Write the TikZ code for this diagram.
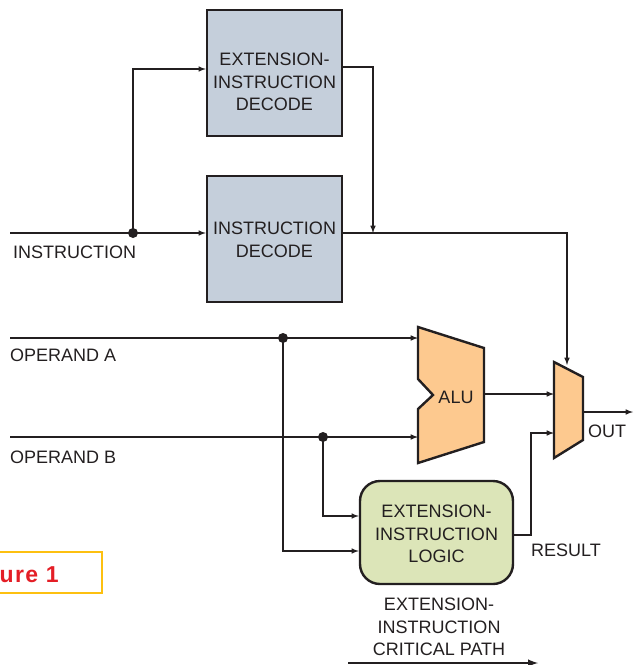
\documentclass[tikz,border=0pt]{standalone}
\usepackage{fontspec}
\setmainfont{Liberation Sans}
\usetikzlibrary{positioning}
\definecolor{decodeblue}{HTML}{C5CFDB}
\definecolor{logicgreen}{HTML}{DCE5B8}
\definecolor{aluorange}{HTML}{FDC98F}
\definecolor{ink}{HTML}{231F20}
\definecolor{figyellow}{HTML}{FDC010}
\definecolor{figred}{HTML}{E41E26}
\tikzset{
	block/.style={draw=ink, line width=2.4pt, minimum width=135pt, minimum height=126pt, inner sep=0pt},
	unit/.style={draw=ink, line width=2.4pt, line join=miter},
	wire/.style={draw=ink, line width=1.5pt},
	dot/.style={circle, fill=ink, inner sep=0pt, minimum size=10pt},
	lbl/.style={text=ink, font=\fontsize{18}{22.5}\selectfont, inner sep=0pt, align=center}
}
\begin{document}
\begin{tikzpicture}[x=1pt,y=-1pt]
	\useasboundingbox (0,0) rectangle (633,665);
	% decode blocks
	\node[block, fill=decodeblue] (extdec) at (274.5,73) {};
	\node[lbl, anchor=north] (extdectext) at (274.5,53) {EXTENSION-\\INSTRUCTION\\DECODE};
	\node[block, fill=decodeblue] (instdec) at (274.5,239) {};
	\node[lbl, anchor=north] (instdectext) at (274.5,222) {INSTRUCTION\\DECODE};
	% extension logic
	\node[block, fill=logicgreen, rounded corners=20pt, minimum width=153pt, minimum height=103pt] (logic) at (436.5,532.5) {};
	\node[lbl, anchor=north] (logictext) at (436.5,505) {EXTENSION-\\INSTRUCTION\\LOGIC};
	% alu and mux
	\draw[unit, fill=aluorange] (418,327) -- (484,348) -- (484,442) -- (418,463) -- (418,409) -- (433,395) -- (418,379) -- cycle;
	\node[lbl] (alu) at (456,397) {ALU};
	\draw[unit, fill=aluorange] (554,362) -- (583,377) -- (583,440) -- (554,458) -- cycle;
	\coordinate (instin) at (10,233);
	\coordinate (split) at (133,233);
	\coordinate (join) at (373,233);
	\coordinate (opa) at (10,338);
	\coordinate (opb) at (10,437);
	\coordinate (dota) at (283,338);
	\coordinate (dotb) at (323,437);
	\coordinate (alua) at (418,338);
	\coordinate (alub) at (418,437);
	\coordinate (aluout) at (484,394);
	\coordinate (muxa) at (554,394);
	\coordinate (muxb) at (554,433);
	\coordinate (muxtop) at (567,365);
	\coordinate (bend) at (531,433);
	\coordinate (muxout) at (583,412);
	\coordinate (outend) at (633,412);
	\coordinate (pathstart) at (348,663);
	\coordinate (pathend) at (538,663);
	% wires
	\draw[wire, -latex] (instin) -- (split -| instdec.west);
	\draw[wire, -latex] (split) |- ([yshift=4pt]extdec.west);
	\draw[wire, -latex] ([yshift=6pt]extdec.east) -| (join);
	\draw[wire, -latex] ([yshift=6pt]instdec.east) -| (muxtop);
	\draw[wire, -latex] (opa) -- (alua);
	\draw[wire, -latex] (opb) -- (alub);
	\draw[wire, -latex] (dota) |- ([yshift=-18.5pt]logic.west);
	\draw[wire, -latex] (dotb) |- ([yshift=16.5pt]logic.west);
	\draw[wire, -latex] (aluout) -- (muxa);
	\draw[wire, -latex] ([yshift=-2.5pt]logic.east) -| (bend) -- (muxb);
	\draw[wire, -latex] (muxout) -- (outend);
	\draw[wire, line width=2.4pt, -latex] (pathstart) -- (pathend);
	\node[dot] (splitdot) at (split) {};
	\node[dot] (adot) at (dota) {};
	\node[dot] (bdot) at (dotb) {};
	% labels
	\node[lbl, anchor=base west] (instlabel) at (13,258) {INSTRUCTION};
	\node[lbl, anchor=base west] (alabel) at (10,361) {OPERAND A};
	\node[lbl, anchor=base west] (blabel) at (10,463) {OPERAND B};
	\node[lbl, anchor=base west] (outlabel) at (588,437) {OUT};
	\node[lbl, anchor=base west] (resultlabel) at (531,556) {RESULT};
	\node[lbl, anchor=north] (pathlabel) at (439,598) {EXTENSION-\\INSTRUCTION\\CRITICAL PATH};
	% figure tag
	\draw[figyellow, line width=2pt] (-5,552) rectangle (102,593);
	\node[anchor=base east, inner sep=0pt, text=figred, font=\fontsize{23}{26}\selectfont\bfseries\addfontfeatures{LetterSpace=6}] (figlabel) at (59,582) {Figure 1};
\end{tikzpicture}
\end{document}
